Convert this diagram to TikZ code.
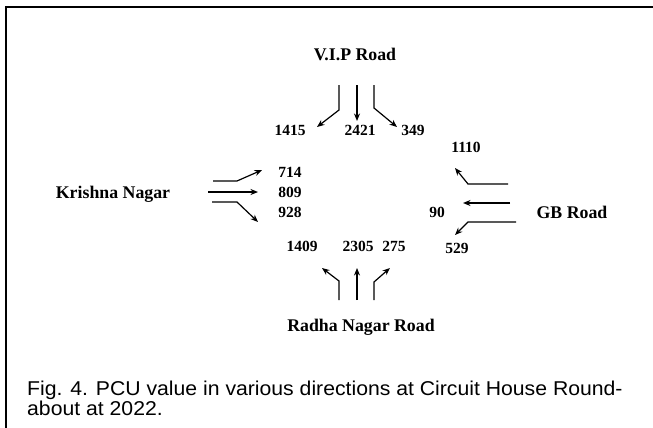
\documentclass[tikz,border=0pt]{standalone}
\usepackage{fontspec}
\setmainfont{Liberation Serif}
\newfontfamily\capfont[FakeStretch=1.06]{Liberation Sans}
\usetikzlibrary{arrows.meta}

\begin{document}
\begin{tikzpicture}[x=1pt,y=-1pt,
  road/.style={font=\fontsize{17.8}{20}\selectfont\bfseries, inner sep=0pt},
  count/.style={font=\fontsize{15.5}{18}\selectfont\bfseries, inner sep=0pt},
  flow/.style={line width=1.2pt, -{Stealth[length=7.5pt,width=6pt]}}]
\useasboundingbox (0,0) rectangle (653,428);
\draw[line width=2pt] (6,428) -- (6,7) -- (653,7);

% roads
\node[road] (vip) at (355,54) {V.I.P Road};
\node[road] (kn) at (113,194) {Krishna Nagar};
\node[road] (gb) at (572,212) {GB Road};
\node[road] (rn) at (361,327) {Radha Nagar Road};

% counts
\node[count] (n1415) at (290,130) {1415};
\node[count] (n2421) at (360,130) {2421};
\node[count] (n349) at (413,130) {349};
\node[count] (n714) at (290,172) {714};
\node[count] (n809) at (290,192) {809};
\node[count] (n928) at (290,212) {928};
\node[count] (n1110) at (466,147) {1110};
\node[count] (n90) at (437,212) {90};
\node[count] (n529) at (457,248) {529};
\node[count] (n1409) at (302,246) {1409};
\node[count] (n2305) at (358,246) {2305};
\node[count] (n275) at (394,246) {275};

% V.I.P Road
\coordinate (v1) at (339,85); \coordinate (v2) at (357,85); \coordinate (v3) at (374,85);
\draw[flow] (v1) -- ++(0,25) -- (317,127);
\draw[flow] (v2) -- (357,121);
\draw[flow] (v3) -- ++(0,23) -- (397,127);
% Krishna Nagar
\coordinate (k1) at (213,181); \coordinate (k2) at (208,192); \coordinate (k3) at (212,202);
\draw[flow] (k1) -- ++(24,0) -- (262,170);
\draw[flow] (k2) -- (258,192);
\draw[flow] (k3) -- ++(25,0) -- (258,222);
% GB Road
\coordinate (g1) at (508,184); \coordinate (g2) at (510,203); \coordinate (g3) at (516,222);
\draw[flow] (g1) -- (468,184) -- (455,168);
\draw[flow] (g2) -- (463,203);
\draw[flow] (g3) -- (468,222) -- (455,235);
% Radha Nagar Road
\coordinate (r1) at (339,300); \coordinate (r2) at (357,300); \coordinate (r3) at (374,300);
\draw[flow] (r1) -- ++(0,-19) -- (322,268);
\draw[flow] (r2) -- (357,268);
\draw[flow] (r3) -- ++(0,-18) -- (390,268);

% caption
\node[anchor=north west, inner sep=0pt, align=left,
  font=\capfont\fontsize{20}{19.5}\selectfont] (cap) at (27,381)
  {Fig. 4. PCU value in various directions at Circuit House Round-\\about at 2022.};
\end{tikzpicture}
\end{document}
